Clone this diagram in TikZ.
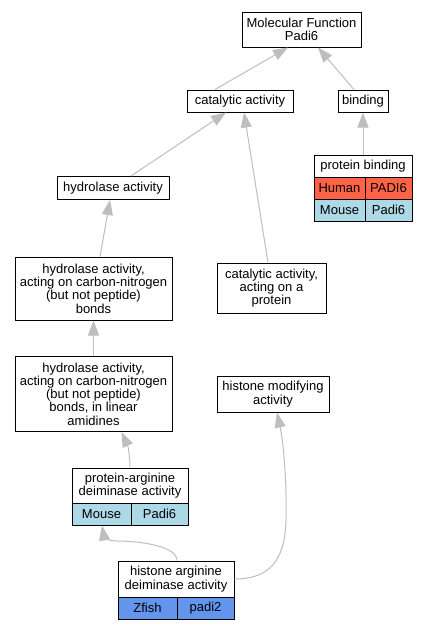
\documentclass[tikz,border=0pt]{standalone}
\usepackage{fontspec}
\setmainfont{Liberation Sans}
\usetikzlibrary{arrows.meta,calc}
\definecolor{edgegray}{HTML}{BEBEBE}
\definecolor{humancol}{HTML}{FF6347}
\definecolor{mousecol}{HTML}{ADD8E6}
\definecolor{fishcol}{HTML}{6495ED}
\begin{document}
\begin{tikzpicture}[x=1pt,y=-1pt,
  box/.style={draw=black,line width=1pt,fill=white,rectangle,inner sep=0pt,align=center,
    font=\fontsize{13}{13.3}\selectfont},
  cell/.style={box},
  edge/.style={draw=edgegray,line width=1pt,-{Triangle[length=15pt,width=11pt]}}]
\useasboundingbox (0,0) rectangle (427,629);
\fill[white] (0,0) rectangle (427,629);
% plain nodes
\node[box,minimum width=119pt,minimum height=35pt] (mf) at (301.5,29.5) {Molecular Function\\Padi6};
\node[box,minimum width=106pt,minimum height=22pt] (cat) at (240,101) {catalytic activity};
\node[box,minimum width=50pt,minimum height=22pt] (bind) at (363,101) {binding};
\node[box,minimum width=112pt,minimum height=23pt] (hyd) at (113,188) {hydrolase activity};
\node[box,minimum width=157pt,minimum height=63pt] (hydb) at (93.5,288.5) {hydrolase activity,\\acting on carbon-nitrogen\\(but not peptide)\\bonds};
\node[box,minimum width=157pt,minimum height=75pt] (hyda) at (93.5,394) {hydrolase activity,\\acting on carbon-nitrogen\\(but not peptide)\\bonds, in linear\\amidines};
\node[box,minimum width=109pt,minimum height=50pt] (catp) at (271.5,288) {catalytic activity,\\acting on a\\protein};
\node[box,minimum width=112pt,minimum height=36pt] (hmod) at (273,394) {histone modifying\\activity};
% protein binding table
\node[box,minimum width=98pt,minimum height=22pt] (pbt) at (363,166) {protein binding};
\node[cell,fill=humancol,minimum width=51pt,minimum height=22pt] (pbh) at (339.5,188) {Human};
\node[cell,fill=humancol,minimum width=47pt,minimum height=22pt] (pbhg) at (388.5,188) {PADI6};
\node[cell,fill=mousecol,minimum width=51pt,minimum height=22pt] (pbm) at (339.5,210) {Mouse};
\node[cell,fill=mousecol,minimum width=47pt,minimum height=22pt] (pbmg) at (388.5,210) {Padi6};
% protein-arginine deiminase table
\node[box,minimum width=116pt,minimum height=35pt] (padt) at (130,485.5) {protein-arginine\\deiminase activity};
\node[cell,fill=mousecol,minimum width=59pt,minimum height=22pt] (padm) at (101.5,514) {Mouse};
\node[cell,fill=mousecol,minimum width=57pt,minimum height=22pt] (padg) at (159.5,514) {Padi6};
% histone arginine deiminase table
\node[box,minimum width=116pt,minimum height=36pt] (hadt) at (176,579) {histone arginine\\deiminase activity};
\node[cell,fill=fishcol,minimum width=59pt,minimum height=22pt] (hadz) at (147.5,608) {Zfish};
\node[cell,fill=fishcol,minimum width=57pt,minimum height=22pt] (hadg) at (205.5,608) {padi2};
% edges
\draw[edge] ($(cat.north)+(-25,0)$) -- ($(mf.south)+(-13.5,0)$);
\draw[edge] ($(bind.north)+(-9,0)$) -- ($(mf.south)+(16.5,0)$);
\draw[edge] (pbt.north) -- (bind.south);
\draw[edge] ($(hyd.north)+(18,0)$) -- ($(cat.south)+(-14,0)$);
\draw[edge] ($(catp.north)+(-3.5,0)$) -- ($(cat.south)+(4,0)$);
\draw[edge] ($(hydb.north)+(6.5,0)$) -- ($(hyd.south)+(-3,0)$);
\draw[edge] (hyda.north) -- (hydb.south);
\draw[edge] (padt.north) .. controls (130,458) and (128,446) .. ($(hyda.south)+(28,0)$);
\draw[edge] ($(hadt.north)+(1,0)$) .. controls (177,546) and (140,541) .. (116,541) .. controls (109,541) and (104,537) .. ($(padm.south)+(0.5,0)$);
\draw[edge] (hadt.east) .. controls (270,579) and (285,560) .. (286,520) .. controls (287,480) and (283,440) .. ($(hmod.south)+(4,0)$);
\end{tikzpicture}
\end{document}
